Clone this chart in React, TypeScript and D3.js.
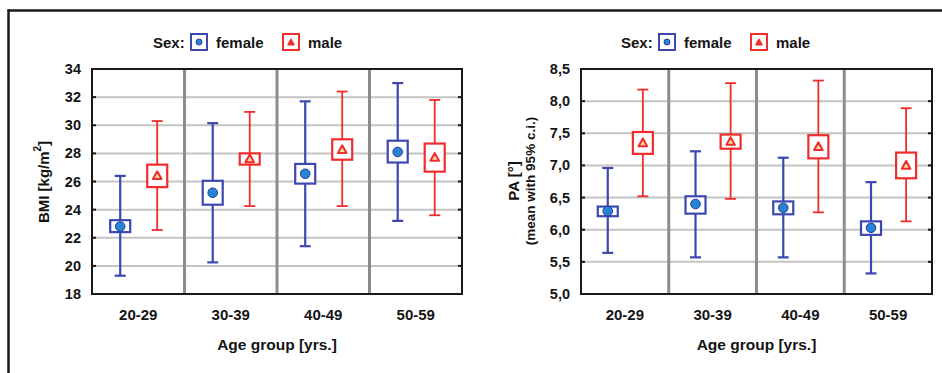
import React from "react";
import * as d3 from "d3";

const ageGroups = ["20-29", "30-39", "40-49", "50-59"];

// BMI panel
const bmiFemaleMean = [22.8, 25.2, 26.55, 28.1];
const bmiFemaleBoxLo = [22.4, 24.35, 25.85, 27.35];
const bmiFemaleBoxHi = [23.25, 26.05, 27.25, 28.9];
const bmiFemaleCiLo = [19.3, 20.25, 21.4, 23.2];
const bmiFemaleCiHi = [26.4, 30.15, 31.7, 33.0];
const bmiMaleMean = [26.4, 27.6, 28.25, 27.7];
const bmiMaleBoxLo = [25.6, 27.2, 27.55, 26.7];
const bmiMaleBoxHi = [27.2, 28.0, 29.0, 28.7];
const bmiMaleCiLo = [22.55, 24.25, 24.25, 23.6];
const bmiMaleCiHi = [30.3, 30.95, 32.4, 31.8];
const bmiTicks = [18, 20, 22, 24, 26, 28, 30, 32, 34];

// PA panel
const paFemaleMean = [6.29, 6.4, 6.34, 6.03];
const paFemaleBoxLo = [6.21, 6.25, 6.24, 5.92];
const paFemaleBoxHi = [6.36, 6.52, 6.44, 6.13];
const paFemaleCiLo = [5.64, 5.57, 5.57, 5.32];
const paFemaleCiHi = [6.96, 7.22, 7.12, 6.74];
const paMaleMean = [7.35, 7.37, 7.29, 7.0];
const paMaleBoxLo = [7.18, 7.26, 7.11, 6.8];
const paMaleBoxHi = [7.52, 7.48, 7.47, 7.2];
const paMaleCiLo = [6.52, 6.48, 6.27, 6.13];
const paMaleCiHi = [8.18, 8.28, 8.32, 7.89];
const paTicks = [5.0, 5.5, 6.0, 6.5, 7.0, 7.5, 8.0, 8.5];

const legendTitle = "Sex:";
const seriesNames = ["female", "male"];

const BLUE = "#3c48b0";
const BLUE_FILL = "#2584d4";
const RED = "#f02c2c";
const RED_FILL = "#fbd9a0";
const TXT = "#141414";
const FONT = "'Liberation Sans', Arial, sans-serif";

type Series = {
  mean: number[];
  boxLo: number[];
  boxHi: number[];
  ciLo: number[];
  ciHi: number[];
};

type PanelProps = {
  x0: number;
  x1: number;
  y0: number;
  y1: number;
  domain: [number, number];
  ticks: number[];
  fmt: (v: number) => string;
  female: Series;
  male: Series;
  legendX: number;
  yTitle: React.ReactNode;
};

function Marker({ kind, cx, cy, small }: { kind: number; cx: number; cy: number; small?: boolean }) {
  if (kind === 0) {
    return <circle cx={cx} cy={cy} r={small ? 3 : 4.8} fill={BLUE_FILL} stroke="#2a3a9a" strokeWidth={1} />;
  }
  const s = small ? 3 : 4.3;
  const path = `M${cx},${cy - s * 1.05} L${cx + s},${cy + s * 0.75} L${cx - s},${cy + s * 0.75} Z`;
  return <path d={path} fill={small ? RED : RED_FILL} stroke={RED} strokeWidth={small ? 1.5 : 2} strokeLinejoin="round" />;
}

function Panel(p: PanelProps) {
  const y = d3.scaleLinear().domain(p.domain).range([p.y1, p.y0]);
  const band = d3.scaleBand<string>().domain(ageGroups).range([p.x0, p.x1]).paddingInner(0).paddingOuter(0);
  const bw = band.bandwidth();
  const offsets = [0.305, 0.705];
  const series = [p.female, p.male];
  const colors = [BLUE, RED];
  const boxW = 20;
  const capW = 11;

  return (
    <g>
      {p.ticks.map((t) => (
        <line key={"g" + t} x1={p.x0} x2={p.x1} y1={y(t)} y2={y(t)} stroke="#c4c4c4" strokeWidth={2} />
      ))}
      {ageGroups.slice(1).map((g) => (
        <line key={"d" + g} x1={band(g)} x2={band(g)} y1={p.y0} y2={p.y1} stroke="#8c8c8c" strokeWidth={3} />
      ))}
      <rect x={p.x0} y={p.y0} width={p.x1 - p.x0} height={p.y1 - p.y0} fill="none" stroke="#1a1a1a" strokeWidth={2} />
      {p.ticks.map((t) => (
        <g key={"t" + t}>
          <line x1={p.x0} x2={p.x0 + 4} y1={y(t)} y2={y(t)} stroke="#1a1a1a" strokeWidth={2} />
          <line x1={p.x1 - 4} x2={p.x1} y1={y(t)} y2={y(t)} stroke="#1a1a1a" strokeWidth={2} />
          <text
            x={p.x0 - 11}
            y={y(t)}
            textAnchor="end"
            dominantBaseline="central"
            fontFamily={FONT}
            fontWeight="bold"
            fontSize={14.5}
            fill={TXT}
          >
            {p.fmt(t)}
          </text>
        </g>
      ))}
      {ageGroups.map((g) => (
        <text
          key={"x" + g}
          x={(band(g) as number) + bw / 2}
          y={314}
          textAnchor="middle"
          dominantBaseline="central"
          fontFamily={FONT}
          fontWeight="bold"
          fontSize={15}
          fill={TXT}
        >
          {g}
        </text>
      ))}
      <text
        x={(p.x0 + p.x1) / 2}
        y={344}
        textAnchor="middle"
        dominantBaseline="central"
        fontFamily={FONT}
        fontWeight="bold"
        fontSize={15.5}
        fill={TXT}
      >
        Age group [yrs.]
      </text>
      {p.yTitle}
      {series.map((s, si) =>
        ageGroups.map((g, i) => {
          const cx = (band(g) as number) + bw * offsets[si];
          const c = colors[si];
          const sw = si === 0 ? 2.2 : 1.8;
          return (
            <g key={si + g}>
              <line x1={cx} x2={cx} y1={y(s.ciLo[i])} y2={y(s.ciHi[i])} stroke={c} strokeWidth={sw} />
              <line x1={cx - capW / 2} x2={cx + capW / 2} y1={y(s.ciLo[i])} y2={y(s.ciLo[i])} stroke={c} strokeWidth={sw} />
              <line x1={cx - capW / 2} x2={cx + capW / 2} y1={y(s.ciHi[i])} y2={y(s.ciHi[i])} stroke={c} strokeWidth={sw} />
              <rect
                x={cx - boxW / 2}
                y={y(s.boxHi[i])}
                width={boxW}
                height={y(s.boxLo[i]) - y(s.boxHi[i])}
                fill="white"
                stroke={c}
                strokeWidth={2.2}
              />
              <Marker kind={si} cx={cx} cy={y(s.mean[i])} />
            </g>
          );
        })
      )}
      <g fontFamily={FONT} fontWeight="bold" fontSize={15} fill={TXT}>
        <text x={p.legendX} y={42} dominantBaseline="central">
          {legendTitle}
        </text>
        <rect x={p.legendX + 38} y={34} width={16} height={16} fill="white" stroke={BLUE} strokeWidth={2} />
        <Marker kind={0} cx={p.legendX + 46} cy={42} small />
        <text x={p.legendX + 63} y={42} dominantBaseline="central">
          {seriesNames[0]}
        </text>
        <rect x={p.legendX + 130} y={34} width={16} height={16} fill="white" stroke={RED} strokeWidth={2} />
        <Marker kind={1} cx={p.legendX + 138} cy={42.5} small />
        <text x={p.legendX + 155} y={42} dominantBaseline="central">
          {seriesNames[1]}
        </text>
      </g>
    </g>
  );
}

export default function App() {
  const dotFmt = (v: number) => String(v);
  const commaFmt = (v: number) => d3.format(".1f")(v).replace(".", ",");
  return (
    <svg
      width={942}
      height={373}
      style={{ position: "absolute", left: 0, top: 0, background: "white" }}
    >
      <rect x={0} y={0} width={942} height={373} fill="white" />
      <line x1={7.5} x2={942} y1={10.5} y2={10.5} stroke="#1a1a1a" strokeWidth={2.5} />
      <line x1={8.5} x2={8.5} y1={9.5} y2={373} stroke="#1a1a1a" strokeWidth={2.5} />
      <Panel
        x0={92}
        x1={462}
        y0={69}
        y1={294}
        domain={[18, 34]}
        ticks={bmiTicks}
        fmt={dotFmt}
        female={{ mean: bmiFemaleMean, boxLo: bmiFemaleBoxLo, boxHi: bmiFemaleBoxHi, ciLo: bmiFemaleCiLo, ciHi: bmiFemaleCiHi }}
        male={{ mean: bmiMaleMean, boxLo: bmiMaleBoxLo, boxHi: bmiMaleBoxHi, ciLo: bmiMaleCiLo, ciHi: bmiMaleCiHi }}
        legendX={153}
        yTitle={
          <text
            transform="translate(43,182) rotate(-90)"
            textAnchor="middle"
            dominantBaseline="central"
            fontFamily={FONT}
            fontWeight="bold"
            fontSize={15}
            fill={TXT}
          >
            BMI [kg/m
            <tspan fontSize={10} dy={-6}>
              2
            </tspan>
            <tspan dy={6}>]</tspan>
          </text>
        }
      />
      <Panel
        x0={581}
        x1={932}
        y0={69}
        y1={294}
        domain={[5, 8.5]}
        ticks={paTicks}
        fmt={commaFmt}
        female={{ mean: paFemaleMean, boxLo: paFemaleBoxLo, boxHi: paFemaleBoxHi, ciLo: paFemaleCiLo, ciHi: paFemaleCiHi }}
        male={{ mean: paMaleMean, boxLo: paMaleBoxLo, boxHi: paMaleBoxHi, ciLo: paMaleCiLo, ciHi: paMaleCiHi }}
        legendX={621}
        yTitle={
          <g fontFamily={FONT} fontWeight="bold" fill={TXT}>
            <text transform="translate(513,181) rotate(-90)" textAnchor="middle" dominantBaseline="central" fontSize={15}>
              PA [°]
            </text>
            <text transform="translate(530,181) rotate(-90)" textAnchor="middle" dominantBaseline="central" fontSize={13.5}>
              (mean with 95% c.i.)
            </text>
          </g>
        }
      />
    </svg>
  );
}
